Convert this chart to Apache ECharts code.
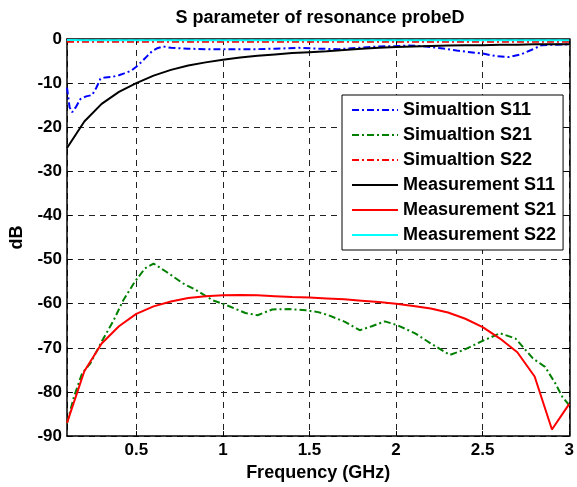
<!DOCTYPE html>
<html>
<head>
<meta charset="utf-8">
<script src="https://cdn.jsdelivr.net/npm/echarts@6/dist/echarts.min.js"></script>
<style>
html,body{margin:0;padding:0;background:#fff;}
#chart{width:577px;height:487px;}
</style>
</head>
<body>
<div id="chart"></div>
<script>
// ---- Data ----
var titleText = 'S parameter of resonance probeD';
var xName = 'Frequency (GHz)';
var yName = 'dB';
var seriesNames = ['Simualtion S11', 'Simualtion S21', 'Simualtion S22', 'Measurement S11', 'Measurement S21', 'Measurement S22'];

// Simulation S11
var simS11Freq = [0.1, 0.115, 0.13, 0.15, 0.178, 0.21, 0.245, 0.27, 0.293, 0.32, 0.36, 0.4, 0.43, 0.47, 0.5, 0.53, 0.56, 0.59, 0.62, 0.656, 0.7, 0.8, 0.9, 1.0, 1.1, 1.2, 1.3, 1.44, 1.55, 1.67, 1.78, 1.9, 2.0, 2.07, 2.15, 2.26, 2.35, 2.41, 2.5, 2.58, 2.65, 2.72, 2.78, 2.84, 2.9, 3.0];
var simS11 = [-11.0, -15.5, -16.6, -15.5, -13.6, -13.0, -12.7, -11.0, -9.0, -8.7, -8.6, -8.2, -7.8, -7.2, -6.3, -5.2, -4.0, -2.8, -2.1, -1.7, -2.0, -2.2, -2.3, -2.3, -2.3, -2.3, -2.2, -2.0, -2.2, -2.3, -2.0, -1.7, -1.6, -1.5, -1.6, -2.1, -2.6, -2.9, -3.3, -3.9, -4.1, -3.5, -2.5, -1.4, -1.3, -1.2];

// Simulation S21
var simS21Freq = [0.1, 0.14, 0.187, 0.235, 0.3, 0.37, 0.425, 0.49, 0.55, 0.6, 0.675, 0.77, 0.845, 0.94, 1.02, 1.13, 1.2, 1.285, 1.38, 1.48, 1.55, 1.61, 1.705, 1.79, 1.86, 1.935, 2.01, 2.11, 2.2, 2.31, 2.39, 2.49, 2.6, 2.69, 2.79, 2.86, 2.92, 2.96, 3.0];
var simS21 = [-87.1, -81.1, -75.8, -73.5, -68.6, -63.7, -59.2, -55.1, -52.0, -50.9, -52.8, -55.4, -56.9, -59.2, -60.3, -62.1, -62.6, -61.3, -61.2, -61.5, -61.9, -62.6, -64.1, -66.0, -65.1, -64.0, -64.9, -66.7, -69.0, -71.6, -70.5, -68.6, -66.7, -67.9, -72.4, -74.3, -78.1, -81.1, -83.0];

// Simulation S22
var simS22Freq = [0.1, 0.5, 1.0, 1.5, 2.0, 2.5, 3.0];
var simS22 = [-0.6, -0.6, -0.6, -0.6, -0.6, -0.6, -0.6];

// Measurements (0.1 GHz steps)
var measFreq = [0.1, 0.2, 0.3, 0.4, 0.5, 0.6, 0.7, 0.8, 0.9, 1.0, 1.1, 1.2, 1.3, 1.4, 1.5, 1.6, 1.7, 1.8, 1.9, 2.0, 2.1, 2.2, 2.3, 2.4, 2.5, 2.6, 2.7, 2.8, 2.9, 3.0];
var measS11 = [-24.7, -18.7, -14.7, -12.0, -10.0, -8.3, -7.0, -6.0, -5.3, -4.7, -4.2, -3.8, -3.5, -3.2, -3.0, -2.8, -2.5, -2.2, -2.0, -1.8, -1.7, -1.6, -1.5, -1.4, -1.4, -1.3, -1.3, -1.2, -1.2, -1.2];
var measS21 = [-87.0, -75.3, -69.0, -65.1, -62.3, -60.6, -59.5, -58.7, -58.3, -58.1, -58.0, -58.1, -58.3, -58.5, -58.6, -58.8, -59.0, -59.3, -59.6, -60.0, -60.5, -61.1, -62.0, -63.4, -65.3, -67.9, -71.0, -76.5, -88.5, -82.7];
var measS22 = [-0.2, -0.3, -0.3, -0.3, -0.3, -0.3, -0.3, -0.3, -0.3, -0.3, -0.3, -0.3, -0.3, -0.3, -0.3, -0.3, -0.3, -0.3, -0.3, -0.3, -0.3, -0.3, -0.3, -0.3, -0.3, -0.3, -0.3, -0.3, -0.3, -0.3];

var xRange = { min: 0.1, max: 3, step: 0.5 };
var yTicks = { min: -90, max: 0, interval: 10 };

// ---- Build ----
function pairs(xs, ys) { return xs.map(function (x, i) { return [x, ys[i]]; }); }
var FONT = 'Liberation Sans, Arial, Helvetica, sans-serif';
var dashDot = [7, 3, 2, 3];

function mkSeries(name, data, color, dashed, z) {
  return {
    name: name, type: 'line', data: data, symbol: 'none', showSymbol: false, z: z,
    xAxisIndex: 0, yAxisIndex: 0, animation: false,
    lineStyle: { color: color, width: 2, type: dashed ? dashDot : 'solid' },
    itemStyle: { color: color },
    emphasis: { disabled: true }
  };
}

var axisCommon = {
  axisLine: { show: true, onZero: false, lineStyle: { color: '#000', width: 1.5 } },
  axisTick: { show: true, inside: true, length: 5, lineStyle: { color: '#000', width: 1 } }
};

// x axis: nice ticks at multiples of 0.5 while the extent starts at 0.1
var xAxisBase = {
  type: 'value', min: xRange.min, max: xRange.max,
  splitNumber: 6, minInterval: xRange.step, maxInterval: xRange.step
};

var chart = echarts.init(document.getElementById('chart'), null, { renderer: 'canvas' });
chart.setOption({
  backgroundColor: '#fff',
  animation: false,
  title: {
    text: titleText, left: 320, top: 9, padding: 0, textAlign: 'center',
    textStyle: { fontFamily: FONT, fontSize: 18, fontWeight: 'bold', color: '#000' }
  },
  grid: { left: 67, right: 5, top: 39, bottom: 50.5, containLabel: false },
  legend: {
    orient: 'vertical', left: 342, top: 95,
    data: seriesNames,
    backgroundColor: '#fff', borderColor: '#000', borderWidth: 1, borderRadius: 0,
    padding: [5, 7, 5, 9],
    itemWidth: 46, itemHeight: 14, itemGap: 5,
    itemStyle: { opacity: 0 },
    textStyle: { fontFamily: FONT, fontSize: 18, fontWeight: 'bold', color: '#000', lineHeight: 20 },
    selectedMode: false
  },
  xAxis: [
    Object.assign({}, axisCommon, xAxisBase, {
      position: 'bottom',
      name: xName, nameLocation: 'middle', nameGap: 27,
      nameTextStyle: { fontFamily: FONT, fontSize: 18, fontWeight: 'bold', color: '#000' },
      axisLabel: { show: true, margin: 6, showMinLabel: false, fontFamily: FONT, fontSize: 17, fontWeight: 'bold', color: '#000' },
      splitLine: { show: true, lineStyle: { color: '#222', width: 1, type: [6, 5] } }
    }),
    Object.assign({}, axisCommon, xAxisBase, {
      position: 'top',
      axisLabel: { show: false }, splitLine: { show: false }
    })
  ],
  yAxis: [
    Object.assign({}, axisCommon, {
      type: 'value', position: 'left', min: yTicks.min, max: yTicks.max, interval: yTicks.interval,
      name: yName, nameLocation: 'middle', nameGap: 37, nameRotate: 90,
      nameTextStyle: { fontFamily: FONT, fontSize: 18, fontWeight: 'bold', color: '#000' },
      axisLabel: { show: true, margin: 5, fontFamily: FONT, fontSize: 17, fontWeight: 'bold', color: '#000' },
      splitLine: { show: true, lineStyle: { color: '#222', width: 1, type: [6, 5] } }
    }),
    Object.assign({}, axisCommon, {
      type: 'value', position: 'right', min: yTicks.min, max: yTicks.max, interval: yTicks.interval,
      axisLabel: { show: false }, splitLine: { show: false }
    })
  ],
  series: [
    mkSeries(seriesNames[0], pairs(simS11Freq, simS11), '#0000ff', true, 3),
    mkSeries(seriesNames[1], pairs(simS21Freq, simS21), '#008000', true, 3),
    mkSeries(seriesNames[2], pairs(simS22Freq, simS22), '#ff0000', true, 3),
    mkSeries(seriesNames[3], pairs(measFreq, measS11), '#000000', false, 4),
    mkSeries(seriesNames[4], pairs(measFreq, measS21), '#ff0000', false, 4),
    mkSeries(seriesNames[5], pairs(measFreq, measS22), '#00ffff', false, 4)
  ]
});
</script>
</body>
</html>
